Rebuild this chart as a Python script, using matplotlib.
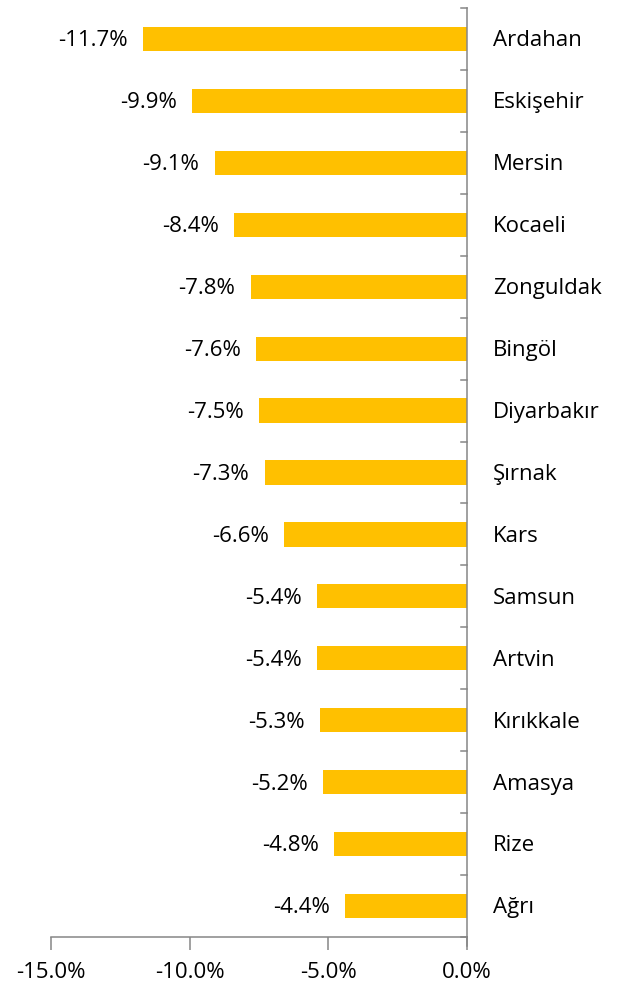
import matplotlib.pyplot as plt
from matplotlib.ticker import FuncFormatter

provinces = ['Ardahan', 'Eskişehir', 'Mersin', 'Kocaeli', 'Zonguldak', 'Bingöl',
             'Diyarbakır', 'Şırnak', 'Kars', 'Samsun', 'Artvin', 'Kırıkkale',
             'Amasya', 'Rize', 'Ağrı']
change = [-11.7, -9.9, -9.1, -8.4, -7.8, -7.6, -7.5, -7.3, -6.6, -5.4, -5.4,
          -5.3, -5.2, -4.8, -4.4]
x_ticks = [-15, -10, -5, 0]

plt.rcParams['font.family'] = ['Open Sans', 'DejaVu Sans']
fs = 16

fig = plt.figure(figsize=(6.19, 9.9), dpi=100)
ax = fig.add_axes([51 / 619, 1 - 937 / 990, (467 - 51) / 619, (937 - 8) / 990])

pos = list(range(len(provinces)))
ax.barh(pos, change, height=0.39, color='#FFC000', zorder=2)

for p, v in zip(pos, change):
    ax.text(v - 0.55, p + 0.03, f'{v:.1f}%', ha='right', va='center', fontsize=fs, color='black')
    ax.text(0.93, p + 0.03, provinces[p], ha='left', va='center', fontsize=fs, color='black')

ax.set_xlim(-15, 0)
ax.set_ylim(len(provinces) - 0.5, -0.5)
ax.set_xticks(x_ticks)
ax.xaxis.set_major_formatter(FuncFormatter(lambda v, _: f'{v:.1f}%'))
ax.set_yticks([])

for side in ['top', 'left']:
    ax.spines[side].set_visible(False)
ax.spines['right'].set_color('#868686')
ax.spines['bottom'].set_color('#868686')
ax.spines['right'].set_linewidth(1.1)
ax.spines['bottom'].set_linewidth(1.1)
ax.tick_params(axis='x', direction='out', length=9, width=1.1, color='#868686', labelsize=fs, pad=9)

# y ticks sit on the left of the axis line, between categories
for t in [i - 0.5 for i in range(len(provinces) + 1)]:
    ax.plot([-0.22, 0], [t, t], color='#868686', lw=1.1, clip_on=False, zorder=3)
ax.plot([0, 0], [len(provinces) - 0.5, len(provinces) - 0.35], color='#868686', lw=1.1, clip_on=False)

fig.savefig('out.png', dpi=100)
